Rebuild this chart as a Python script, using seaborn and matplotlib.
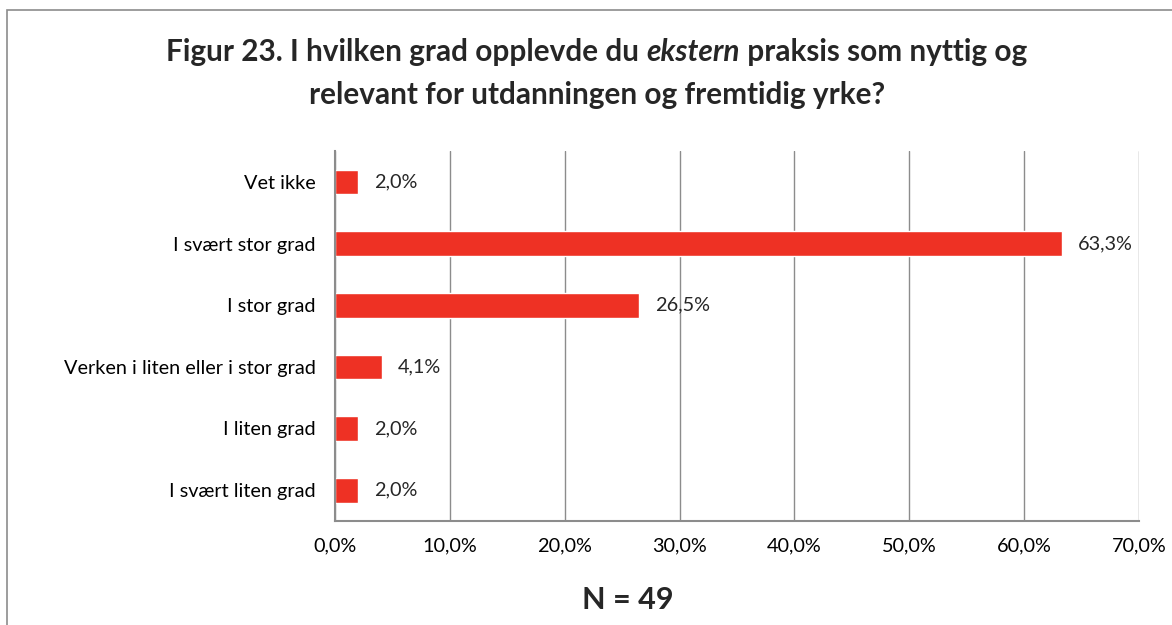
import pandas as pd
import seaborn as sns
import matplotlib
import matplotlib.pyplot as plt
from matplotlib.patches import Rectangle
from matplotlib.ticker import FuncFormatter
matplotlib.use('Agg')

# data
kategorier = ['Vet ikke', 'I svært stor grad', 'I stor grad',
              'Verken i liten eller i stor grad', 'I liten grad', 'I svært liten grad']
prosent = [2.0, 63.3, 26.5, 4.1, 2.0, 2.0]
x_ticks = [0, 10, 20, 30, 40, 50, 60, 70]

df = pd.DataFrame({'kategori': kategorier, 'prosent': prosent})

sns.set_style('white')
plt.rcParams['font.family'] = ['Lato', 'DejaVu Sans']

fig = plt.figure(figsize=(11.72, 6.25), dpi=100)
ax = fig.add_axes([0.2858, 0.1664, 0.686, 0.592])

red = '#EE3124'
sns.barplot(data=df, x='prosent', y='kategori', orient='h', color=red,
            width=0.4, saturation=1, ax=ax)

ax.set_xlim(0, 70)
ax.set_xticks(x_ticks)
ax.xaxis.set_major_formatter(FuncFormatter(lambda v, p: f'{v:.1f}%'.replace('.', ',')))
ax.set_xlabel('')
ax.set_ylabel('')
ax.grid(axis='x', color='#8c8c8c', linewidth=1)
ax.set_axisbelow(True)
ax.tick_params(axis='both', length=0, labelsize=14.3, colors='black')
ax.tick_params(axis='y', pad=14)
ax.tick_params(axis='x', pad=12)
for s in ['top', 'right']:
    ax.spines[s].set_visible(False)
for s in ['left', 'bottom']:
    ax.spines[s].set_color('#8c8c8c')
    ax.spines[s].set_linewidth(1.5)

# value labels
for i, v in enumerate(prosent):
    ax.annotate(f'{v:.1f}%'.replace('.', ','), (v, i), xytext=(11.5, 0),
                textcoords='offset points', va='center', ha='left', fontsize=14.3)

# border (cut at right/bottom like the screenshot)
fig.patches.append(Rectangle((7 / 1172, -0.05), 1.2, 0.05 + 615 / 625,
                             transform=fig.transFigure, fill=False,
                             edgecolor='#8c8c8c', linewidth=1.2))

# title, with "ekstern" in italic
fig.canvas.draw()
r = fig.canvas.get_renderer()
deler = [('Figur 23. I hvilken grad opplevde du ', 'normal'),
         ('ekstern', 'italic'),
         (' praksis som nyttig og', 'normal')]
tekster = []
for s, stil in deler:
    tekster.append(fig.text(0, 1 - 52 / 625, s, fontsize=21.4, fontweight='bold',
                            style=stil, va='center', ha='left'))
bredder = [t.get_window_extent(r).width for t in tekster]
x = 597 - sum(bredder) / 2
for t, b in zip(tekster, bredder):
    t.set_x(x / 1172)
    x += b
fig.text(597 / 1172, 1 - 95 / 625, 'relevant for utdanningen og fremtidig yrke?',
         fontsize=21.4, fontweight='bold', ha='center', va='center')

fig.text(628 / 1172, 1 - 600 / 625, 'N = 49', fontsize=22, fontweight='bold',
         ha='center', va='center')

fig.savefig('out.png', dpi=100)
